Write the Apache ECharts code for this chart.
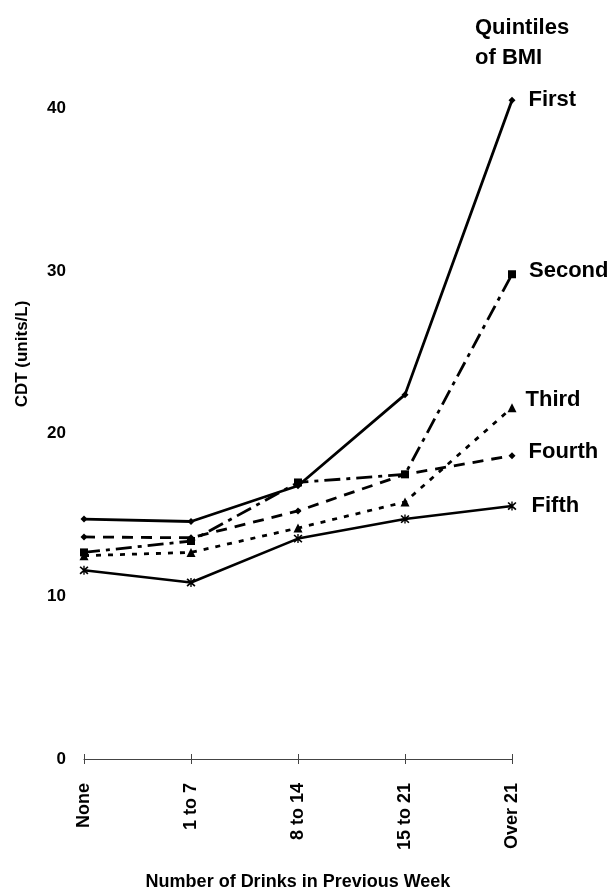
<!DOCTYPE html>
<html>
<head>
<meta charset="utf-8">
<script src="https://cdn.jsdelivr.net/npm/echarts@6/dist/echarts.min.js"></script>
<style>
html,body{margin:0;padding:0;background:#fff;}
#c{width:613px;height:896px;}
</style>
</head>
<body>
<div id="c"></div>
<script>
const categories = ['None', '1 to 7', '8 to 14', '15 to 21', 'Over 21'];
const seriesNames = ['First', 'Second', 'Third', 'Fourth', 'Fifth'];
const first  = [14.75, 14.6, 16.8, 22.4, 40.5];
const second = [12.7, 13.4, 17.0, 17.5, 29.8];
const third  = [12.5, 12.7, 14.2, 15.8, 21.6];
const fourth = [13.65, 13.6, 15.25, 17.5, 18.65];
const fifth  = [11.6, 10.85, 13.55, 14.75, 15.55];
const yTicks = [0, 10, 20, 30, 40];

const FONT = 'Liberation Sans, Arial, sans-serif';
const asterisk = 'path://M-0.7,-5L0.7,-5L0.7,5L-0.7,5Z M-4.6,-3.4L-3.4,-4.6L4.6,3.4L3.4,4.6Z M3.4,-4.6L4.6,-3.4L-3.4,4.6L-4.6,3.4Z';

const styles = [
  {data: first,  dash: null, symbol: 'diamond', size: 7, width: 2.8, lblOff: [8, 0]},
  {data: second, dash: [16, 6, 4, 6], symbol: 'rect', size: 8, width: 2.8, lblOff: [8, -3]},
  {data: third,  dash: [5, 7], symbol: 'triangle', size: 9, width: 2.8, lblOff: [4, -8]},
  {data: fourth, dash: [11, 8], symbol: 'diamond', size: 7, width: 2.8, lblOff: [8, -4]},
  {data: fifth,  dash: null, symbol: asterisk, size: 9, width: 2.6, lblOff: [10, 0]}
];

const series = styles.map((s, i) => ({
  name: seriesNames[i],
  type: 'line',
  data: s.data.map((v, j) => (j === s.data.length - 1 ? {
    value: v,
    label: {
      show: true, position: 'right', formatter: seriesNames[i],
      offset: s.lblOff, color: '#000', fontFamily: FONT, fontWeight: 'bold', fontSize: 22
    }
  } : v)),
  symbol: s.symbol,
  symbolSize: s.size,
  showAllSymbol: true,
  clip: false,
  itemStyle: {color: '#000', borderWidth: 0},
  lineStyle: {color: '#000', width: s.width, type: s.dash ? s.dash : 'solid', cap: 'butt'},
  emphasis: {disabled: true},
  animation: false,
  z: 5 - i
}));

const chart = echarts.init(document.getElementById('c'), null, {renderer: 'canvas'});
chart.setOption({
  backgroundColor: '#fff',
  animation: false,
  grid: {left: 84, right: 101, top: 27, bottom: 131},
  title: {
    text: 'Quintiles\nof BMI',
    left: 470, top: 8,
    textStyle: {fontFamily: FONT, fontWeight: 'bold', fontSize: 22, color: '#000', lineHeight: 30}
  },
  graphic: [{
    type: 'text',
    x: 22, y: 354,
    rotation: Math.PI / 2,
    style: {
      text: 'CDT (units/L)', fill: '#000', font: 'bold 17px Liberation Sans, Arial, sans-serif',
      align: 'center', verticalAlign: 'middle'
    }
  }],
  xAxis: [{
    type: 'category',
    data: categories,
    boundaryGap: false,
    axisLine: {lineStyle: {color: '#444', width: 1}},
    axisTick: {show: true, length: 5, lineStyle: {color: '#444'}},
    axisLabel: {rotate: 90, margin: 24, color: '#000', fontFamily: FONT, fontWeight: 'bold', fontSize: 18},
    name: 'Number of Drinks in Previous Week',
    nameLocation: 'middle',
    nameGap: 114,
    nameTextStyle: {color: '#000', fontFamily: FONT, fontWeight: 'bold', fontSize: 18}
  }, {
    type: 'category',
    data: categories,
    boundaryGap: false,
    position: 'bottom',
    axisLine: {show: false},
    axisTick: {show: true, inside: true, length: 5, lineStyle: {color: '#444'}},
    axisLabel: {show: false}
  }],
  yAxis: {
    type: 'value',
    min: 0, max: 45, interval: 10,
    axisLine: {show: false},
    axisTick: {show: false},
    splitLine: {show: false},
    axisLabel: {
      margin: 18, color: '#000', fontFamily: FONT, fontWeight: 'bold', fontSize: 17,
      formatter: v => (yTicks.indexOf(v) >= 0 ? String(v) : '')
    }
  },
  series: series
});
</script>
</body>
</html>
